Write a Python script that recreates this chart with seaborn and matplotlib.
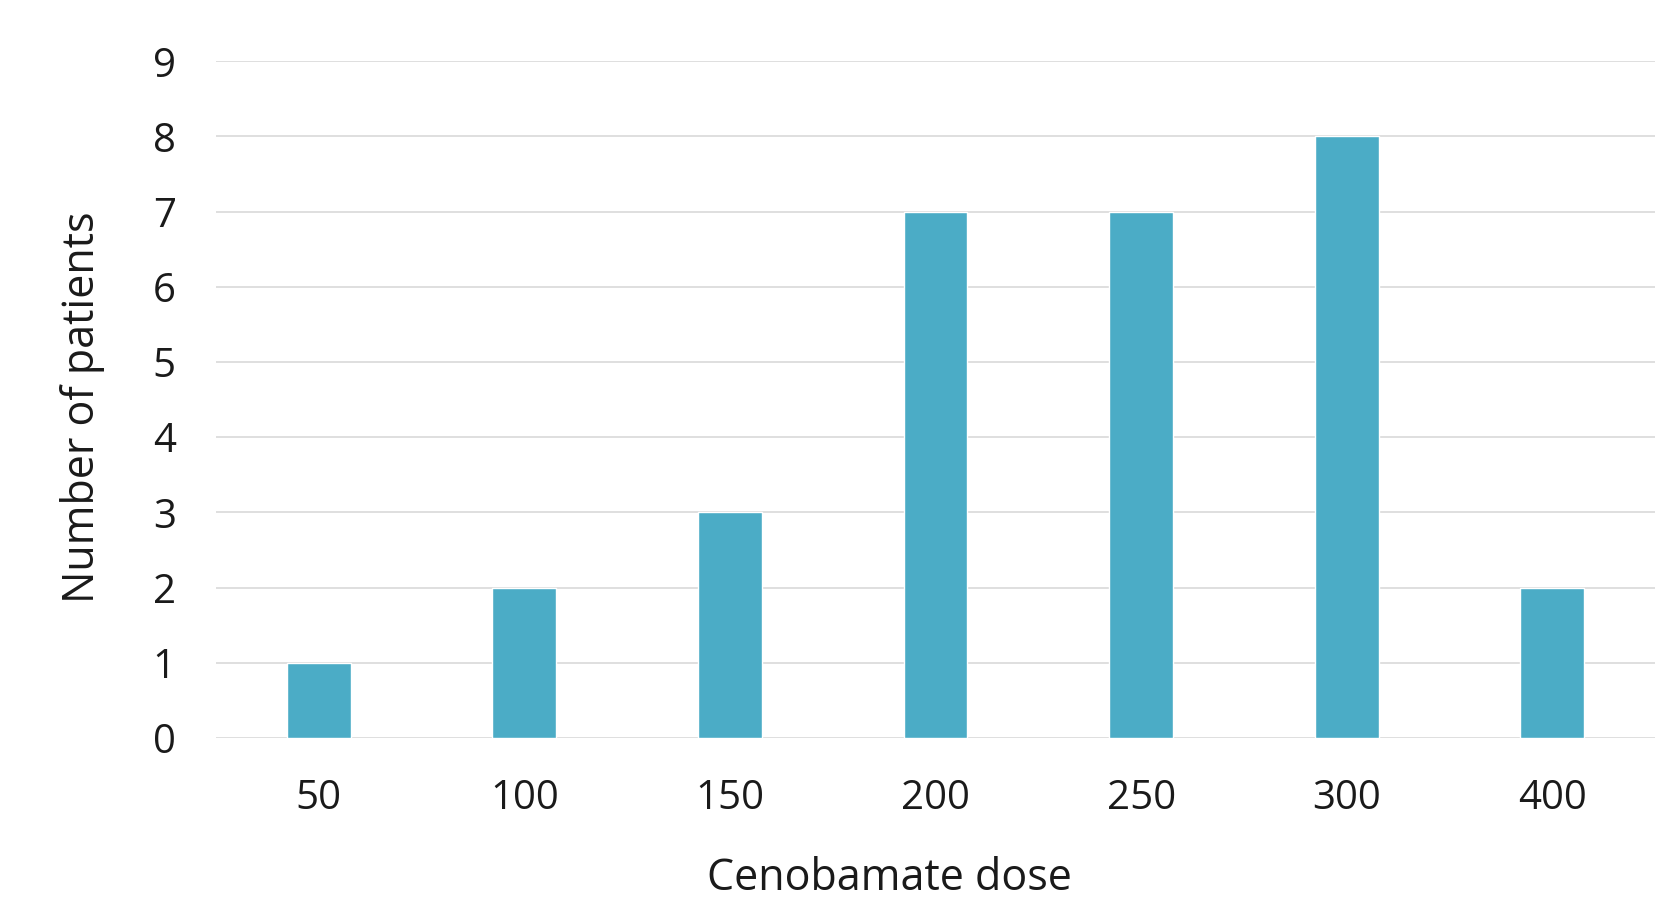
import matplotlib
matplotlib.use("Agg")
import pandas as pd
import matplotlib.pyplot as plt
import seaborn as sns

# data
doses = ["50", "100", "150", "200", "250", "300", "400"]
patients = [1, 2, 3, 7, 7, 8, 2]

df = pd.DataFrame({"dose": doses, "patients": patients})

sns.set_style("white")
plt.rcParams["font.family"] = ["Open Sans", "DejaVu Sans"]

fig = plt.figure(figsize=(16.55, 9.01), dpi=100)
ax = fig.add_axes([0.1305, 0.181, 0.8695, 0.751])

sns.barplot(data=df, x="dose", y="patients", order=doses, color="#4BACC6",
            saturation=1, width=0.31, ax=ax)

ax.set_xlim(-0.5, 6.5)
ax.set_ylim(0, 9)
ax.set_yticks(range(0, 10))
ax.set_axisbelow(True)
ax.grid(axis="y", color="#d9d9d9", linewidth=1.2)
for s in ax.spines.values():
    s.set_visible(False)
ax.tick_params(axis="both", length=0, labelsize=29, labelcolor="#1a1a1a")
ax.tick_params(axis="x", pad=29)
ax.tick_params(axis="y", pad=29)

ax.set_xlabel("Cenobamate dose", fontsize=31, color="#1a1a1a")
ax.xaxis.set_label_coords(0.468, -0.175)
ax.set_ylabel("Number of patients", fontsize=31, color="#1a1a1a", labelpad=34)
ax.yaxis.label.set_y(0.489)

fig.savefig("out.png", dpi=100)
